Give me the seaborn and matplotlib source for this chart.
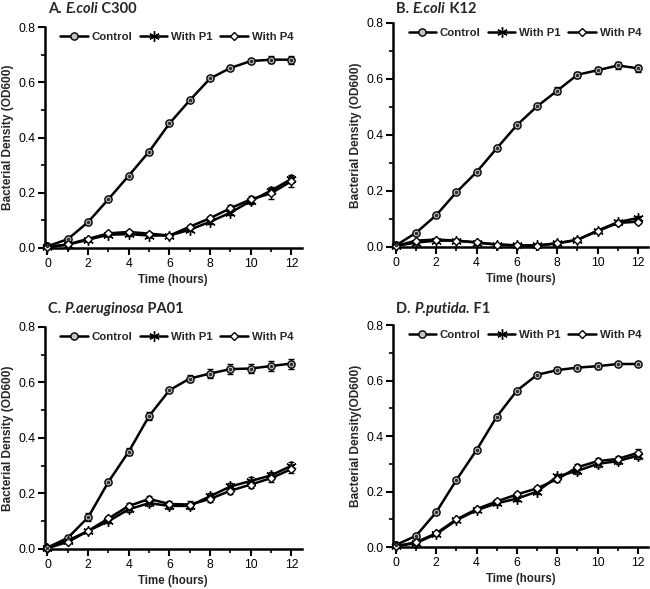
import numpy as np
import pandas as pd
import seaborn as sns
import matplotlib.pyplot as plt
from matplotlib.ticker import MultipleLocator

# time points (hours)
hours = list(range(13))

# Panel A: E.coli C300
a_control = [0.006, 0.032, 0.094, 0.177, 0.262, 0.349, 0.451, 0.535, 0.614, 0.652, 0.677, 0.682, 0.682]
a_p1 = [0.003, 0.012, 0.030, 0.048, 0.050, 0.045, 0.045, 0.066, 0.095, 0.128, 0.170, 0.208, 0.250]
a_p4 = [0.003, 0.013, 0.033, 0.053, 0.058, 0.052, 0.045, 0.077, 0.108, 0.144, 0.176, 0.198, 0.242]
a_control_err = [0.002, 0.004, 0.004, 0.005, 0.004, 0.005, 0.004, 0.004, 0.005, 0.006, 0.008, 0.012, 0.014]
a_p1_err = [0.002, 0.003, 0.004, 0.005, 0.006, 0.005, 0.005, 0.006, 0.008, 0.010, 0.012, 0.012, 0.014]
a_p4_err = [0.002, 0.003, 0.004, 0.005, 0.006, 0.005, 0.005, 0.006, 0.008, 0.010, 0.012, 0.020, 0.020]

# Panel B: E.coli K12
b_control = [0.005, 0.050, 0.113, 0.195, 0.267, 0.352, 0.435, 0.502, 0.558, 0.615, 0.631, 0.648, 0.638]
b_p1 = [0.003, 0.015, 0.022, 0.022, 0.015, 0.008, 0.005, 0.005, 0.012, 0.025, 0.058, 0.088, 0.103]
b_p4 = [0.003, 0.022, 0.026, 0.022, 0.016, 0.008, 0.005, 0.004, 0.013, 0.025, 0.056, 0.085, 0.090]
b_control_err = [0.002, 0.005, 0.005, 0.004, 0.004, 0.005, 0.004, 0.005, 0.012, 0.010, 0.012, 0.012, 0.012]
b_p1_err = [0.002, 0.004, 0.006, 0.005, 0.004, 0.003, 0.003, 0.003, 0.004, 0.005, 0.006, 0.008, 0.008]
b_p4_err = [0.002, 0.004, 0.006, 0.005, 0.004, 0.003, 0.003, 0.003, 0.004, 0.005, 0.006, 0.008, 0.008]

# Panel C: P.aeruginosa PA01
c_control = [0.005, 0.040, 0.114, 0.242, 0.351, 0.479, 0.572, 0.614, 0.632, 0.648, 0.650, 0.659, 0.668]
c_p1 = [0.003, 0.030, 0.065, 0.100, 0.143, 0.165, 0.155, 0.155, 0.190, 0.225, 0.245, 0.265, 0.300]
c_p4 = [0.003, 0.025, 0.065, 0.110, 0.155, 0.180, 0.162, 0.160, 0.180, 0.210, 0.232, 0.255, 0.288]
c_control_err = [0.002, 0.006, 0.015, 0.008, 0.014, 0.015, 0.008, 0.012, 0.015, 0.017, 0.017, 0.017, 0.018]
c_p1_err = [0.002, 0.005, 0.008, 0.008, 0.010, 0.012, 0.010, 0.012, 0.012, 0.013, 0.013, 0.014, 0.014]
c_p4_err = [0.002, 0.005, 0.008, 0.008, 0.010, 0.012, 0.010, 0.012, 0.012, 0.013, 0.013, 0.014, 0.016]

# Panel D: P.putida F1
d_control = [0.008, 0.041, 0.126, 0.242, 0.350, 0.470, 0.564, 0.621, 0.638, 0.647, 0.652, 0.660, 0.660]
d_p1 = [0.003, 0.015, 0.047, 0.097, 0.133, 0.158, 0.175, 0.200, 0.255, 0.275, 0.300, 0.310, 0.330]
d_p4 = [0.003, 0.018, 0.050, 0.100, 0.137, 0.165, 0.190, 0.212, 0.245, 0.288, 0.310, 0.318, 0.340]
d_control_err = [0.002, 0.004, 0.004, 0.005, 0.005, 0.005, 0.006, 0.008, 0.010, 0.010, 0.010, 0.008, 0.008]
d_p1_err = [0.002, 0.004, 0.005, 0.006, 0.007, 0.007, 0.008, 0.008, 0.010, 0.010, 0.010, 0.012, 0.012]
d_p4_err = [0.002, 0.004, 0.005, 0.006, 0.007, 0.007, 0.008, 0.008, 0.010, 0.010, 0.010, 0.012, 0.012]

series_names = ['Control', 'With P1', 'With P4']

panels = [
    (['A. ', 'E.coli', ' C300'], 'Bacterial Density (OD600)',
     [a_control, a_p1, a_p4], [a_control_err, a_p1_err, a_p4_err]),
    (['B. ', 'E.coli', ' K12'], 'Bacterial Density (OD600)',
     [b_control, b_p1, b_p4], [b_control_err, b_p1_err, b_p4_err]),
    (['C. ', 'P.aeruginosa', ' PA01'], 'Bacterial Density (OD600)',
     [c_control, c_p1, c_p4], [c_control_err, c_p1_err, c_p4_err]),
    (['D. ', 'P.putida.', ' F1'], 'Bacterial Density(OD600)',
     [d_control, d_p1, d_p4], [d_control_err, d_p1_err, d_p4_err]),
]

# marker style per series
styles = {
    'Control': dict(marker='o', markersize=5.2, markerfacecolor='#c4c4c4'),
    'With P1': dict(marker=(6, 2, 0), markersize=7.5, markerfacecolor='black'),
    'With P4': dict(marker='D', markersize=4.3, markerfacecolor='white'),
}

sns.set_theme(style='ticks')
plt.rcParams['font.family'] = ['Liberation Sans', 'DejaVu Sans']

fig = plt.figure(figsize=(6.5, 5.89), dpi=100)
positions = [
    [0.069, 0.579, 0.395, 0.375],
    [0.605, 0.581, 0.392, 0.380],
    [0.069, 0.068, 0.395, 0.377],
    [0.605, 0.071, 0.392, 0.377],
]
title_y = [1.050, 1.031, 1.048, 1.039]

for pos, ty, (title_parts, ylab, vals, errs) in zip(positions, title_y, panels):
    ax = fig.add_axes(pos)
    for name, v, e in zip(series_names, vals, errs):
        ax.errorbar(hours, v, yerr=e, fmt='none', ecolor='black',
                    elinewidth=1.0, capsize=2, capthick=1.0, zorder=2, clip_on=False)
        sns.lineplot(x=hours, y=v, ax=ax, color='black', linewidth=1.8,
                     markeredgecolor='black', markeredgewidth=1.0,
                     label=name, clip_on=False, zorder=3, **styles[name])
    # small dark centre dot in the control circles
    ax.plot(hours, vals[0], linestyle='none', marker='o', markersize=1.6,
            color='#333333', zorder=4, clip_on=False)

    ax.set_xlim(-0.13, 12.5)
    ax.set_ylim(0, 0.8)
    ax.xaxis.set_major_locator(MultipleLocator(2))
    ax.xaxis.set_minor_locator(MultipleLocator(1))
    ax.yaxis.set_major_locator(MultipleLocator(0.2))
    ax.yaxis.set_minor_locator(MultipleLocator(0.1))
    ax.yaxis.set_major_formatter(plt.FormatStrFormatter('%.1f'))
    ax.tick_params(which='major', length=5, width=1.5, labelsize=8.8, pad=2, colors='black')
    ax.tick_params(which='minor', length=3, width=1.2, colors='black')
    for s in ['left', 'bottom']:
        ax.spines[s].set_linewidth(1.8)
        ax.spines[s].set_color('black')
    sns.despine(ax=ax)

    ax.set_xlabel('Time (hours)', fontsize=8.3, fontweight='bold', labelpad=3)
    ax.set_ylabel(ylab, fontsize=8.6, fontweight='bold', labelpad=3)

    ax.legend(loc='center left', bbox_to_anchor=(0.06, 0.955), ncol=3, frameon=False,
              prop={'weight': 'bold', 'size': 8.2}, handlelength=2.4,
              handletextpad=0.35, columnspacing=0.65, borderaxespad=0, borderpad=0)

    # panel title with italic species name
    t = ax.text(0.012, ty, title_parts[0], transform=ax.transAxes, fontsize=10.5,
                fontweight='bold', family=['Lato', 'DejaVu Sans'], va='bottom', ha='left')
    t = ax.annotate(title_parts[1], xy=(1, 0), xycoords=t, fontsize=10.5,
                    fontweight='bold', style='italic', family=['Lato', 'DejaVu Sans'],
                    va='bottom', ha='left')
    ax.annotate(title_parts[2], xy=(1, 0), xycoords=t, fontsize=10.5,
                fontweight='bold', family=['Lato', 'DejaVu Sans'], va='bottom', ha='left')

fig.savefig('out.png', dpi=100, facecolor='white')
